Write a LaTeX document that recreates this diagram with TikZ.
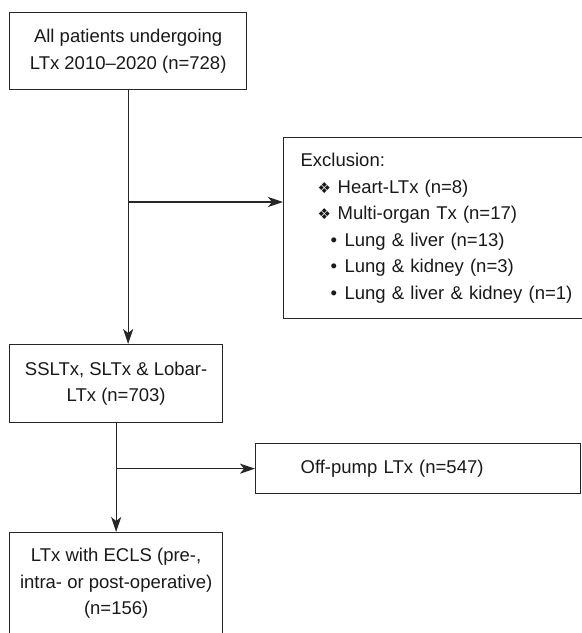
\documentclass[tikz,border=0pt]{standalone}
\usepackage{fontspec}
\setmainfont{Liberation Sans}
\newfontfamily\symfont{DejaVu Sans}
\usetikzlibrary{arrows.meta}

\newcommand{\dia}{\makebox[20pt][l]{\symfont\fontsize{15}{15}\selectfont ❖}}
\newcommand{\dotb}{\makebox[14pt][l]{•}}

\begin{document}
\begin{tikzpicture}[x=1pt, y=-1pt,
    box/.style={draw=black!85, line width=1.3pt, text=black!90,
      font=\fontsize{18.5}{26.5}\selectfont},
    arr/.style={draw=black!85, line width=1.3pt,
      -{Stealth[length=15pt, width=10pt, inset=4pt]}}]
    \useasboundingbox (0,0) rectangle (582,633);
    \clip (0,0) rectangle (582,633);

    %% main column
    \node [box, anchor=north west, align=center, minimum width=237pt,
      minimum height=77pt] (a1) at (9,12)
      {All patients undergoing\\ LTx 2010--2020 (n=728)};
    \node [box, anchor=north west, align=center, minimum width=213pt,
      minimum height=78pt] (s1) at (9,344)
      {SSLTx, SLTx \& Lobar-\\ LTx (n=703)};
    \node [box, anchor=north west, align=center, minimum width=213pt,
      minimum height=102pt] (e1) at (9,532)
      {LTx with ECLS (pre-,\\ intra- or post-operative)\\ (n=156)};

    %% side boxes
    \node [box, anchor=north west, align=left, text width=300pt,
      inner xsep=17pt, minimum height=181pt] (ex1) at (283,137)
      {Exclusion:\\
       \hspace*{17pt}\dia Heart-LTx (n=8)\\
       \hspace*{17pt}\dia Multi-organ Tx (n=17)\\
       \hspace*{30pt}\dotb Lung \& liver (n=13)\\
       \hspace*{30pt}\dotb Lung \& kidney (n=3)\\
       \hspace*{30pt}\dotb Lung \& liver \& kidney (n=1)};
    \node [box, anchor=north west, align=left, text width=235pt,
      inner xsep=45pt, minimum height=50pt] (op1) at (255,443)
      {Off-pump LTx (n=547)};

    %% connectors
    \coordinate (b1) at (127.5,202);
    \draw [arr] (a1.south) -- (a1.south |- s1.north);
    \draw [arr] (b1) -- (b1 -| ex1.west);
    \draw [arr] (s1.south) -- (e1.north);
    \draw [arr] (s1.south |- op1.west) -- (op1.west);
\end{tikzpicture}
\end{document}
